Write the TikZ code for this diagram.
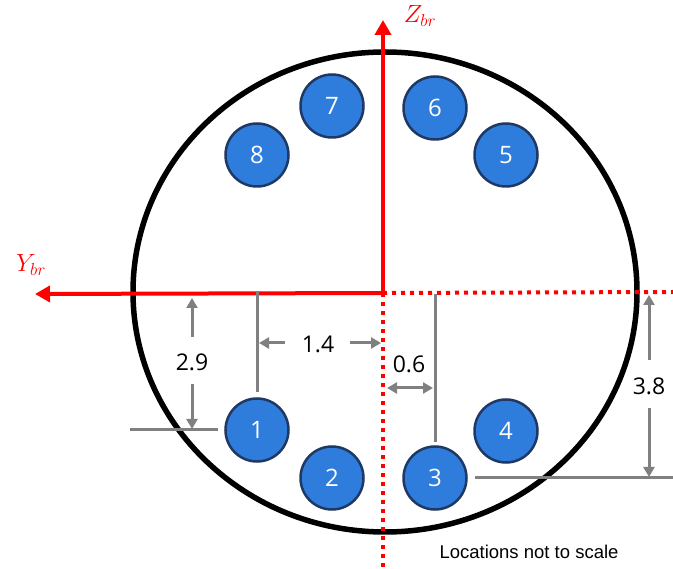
\documentclass[tikz,border=0pt]{standalone}
\usepackage{fontspec}
\setmainfont{Open Sans}
\newfontfamily\arialf{Liberation Sans}
\usetikzlibrary{arrows.meta}
\definecolor{boltfill}{RGB}{46,125,220}
\definecolor{boltdraw}{RGB}{31,56,100}
\definecolor{dimgray}{RGB}{128,128,128}
\begin{document}
\begin{tikzpicture}[x=1pt,y=-1pt,
 bolt/.style={circle,draw=boltdraw,line width=2.5pt,fill=boltfill,minimum size=63pt,inner sep=0pt,text=white,font=\fontsize{24}{24}\selectfont},
 dim/.style={draw=dimgray,line width=3pt},
 dimarrow/.style={dim,-{Triangle[length=10pt,width=11pt]}},
 dimlabel/.style={font=\fontsize{23}{23}\selectfont,inner sep=0pt},
 axis/.style={red,line width=4pt,-{Triangle[length=15pt,width=16pt]}},
 dotaxis/.style={red,line width=4pt,dash pattern=on 4pt off 5pt},
 axlabel/.style={red,inner sep=0pt,font=\fontsize{26}{26}\selectfont}]
\useasboundingbox (0,0) rectangle (673,569);
% frame circle
\draw[line width=5.5pt] (385,292) ellipse [x radius=252, y radius=240];
% axes
\coordinate (O) at (383,293);
\coordinate (Ztip) at (383,20);
\coordinate (Ytip) at (35,294);
\coordinate (Yend) at (673,292);
\coordinate (Zend) at (383,569);
\draw[dotaxis] (O) -- (Yend);
\draw[dotaxis] (O) -- (Zend);
\draw[axis] (O) -- (Ztip);
\draw[axis] (O) -- (Ytip);
\node[axlabel] (zlab) at (420,16) {$Z_{br}$};
\node[axlabel] (ylab) at (31,265) {$Y_{br}$};
% dimension reference lines
\coordinate (v1a) at (257,291);
\coordinate (v1b) at (257,392);
\draw[dim] (v1a) -- (v1b);
\coordinate (h1a) at (130,430);
\coordinate (h1b) at (218,430);
\draw[dim] (h1a) -- (h1b);
\coordinate (v3a) at (435,294);
\coordinate (v3b) at (435,442);
\draw[dim] (v3a) -- (v3b);
\coordinate (h3a) at (475,478);
\coordinate (h3b) at (673,478);
\draw[dim] (h3a) -- (h3b);
% 2.9
\node[dimlabel] (l29) at (192,362) {2.9};
\coordinate (a29t) at (192,298);
\coordinate (a29s) at (192,337);
\coordinate (b29s) at (192,384);
\coordinate (b29t) at (192,429);
\draw[dimarrow] (a29s) -- (a29t);
\draw[dimarrow] (b29s) -- (b29t);
% 1.4
\node[dimlabel] (l14) at (318,344) {1.4};
\coordinate (a14s) at (285,343);
\coordinate (a14t) at (259,343);
\coordinate (b14s) at (350,343);
\coordinate (b14t) at (381,343);
\draw[dimarrow] (a14s) -- (a14t);
\draw[dimarrow] (b14s) -- (b14t);
% 0.6
\node[dimlabel] (l06) at (409,364) {0.6};
\coordinate (a06l) at (387,388);
\coordinate (a06r) at (433,388);
\draw[dim,{Triangle[length=10pt,width=11pt]}-{Triangle[length=10pt,width=11pt]}] (a06l) -- (a06r);
% 3.8
\node[dimlabel] (l38) at (649,386) {3.8};
\coordinate (a38t) at (649,295);
\coordinate (a38s) at (649,360);
\coordinate (b38s) at (649,408);
\coordinate (b38t) at (649,477);
\draw[dimarrow] (a38s) -- (a38t);
\draw[dimarrow] (b38s) -- (b38t);
% bolts
\node[bolt] (b1) at (257,430) {1};
\node[bolt] (b2) at (332,478) {2};
\node[bolt] (b3) at (435,478) {3};
\node[bolt] (b4) at (506,431) {4};
\node[bolt] (b5) at (506,155) {5};
\node[bolt] (b6) at (435,108) {6};
\node[bolt] (b7) at (332,106) {7};
\node[bolt] (b8) at (257,155) {8};
% note
\node[font=\arialf\fontsize{18.5}{18.5}\selectfont,inner sep=0pt] (note) at (529,552) {Locations not to scale};
\end{tikzpicture}
\end{document}
